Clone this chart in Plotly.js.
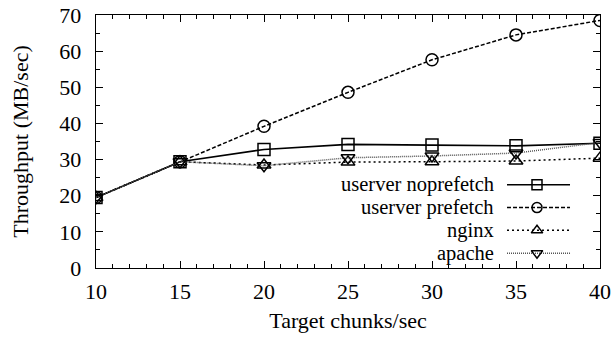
<!DOCTYPE html>
<html>
<head>
<meta charset="utf-8">
<script src="https://cdn.plot.ly/plotly-3.0.1.min.js"></script>
<style>html,body{margin:0;padding:0;background:#fff}#chart{width:613px;height:338px}</style>
</head>
<body>
<div id="chart"></div>
<script>
const chunks = [10, 15, 20, 25, 30, 35, 40];
const userverNoprefetch = [19.5, 29.4, 32.8, 34.2, 34.0, 33.8, 34.5];
const userverPrefetch   = [19.5, 29.4, 39.2, 48.6, 57.6, 64.5, 68.5];
const nginx             = [19.5, 29.4, 28.5, 29.3, 29.4, 29.6, 30.4];
const apache            = [19.5, 29.4, 28.3, 30.5, 31.0, 31.8, 34.7];
const seriesNames = ["userver noprefetch", "userver prefetch", "nginx", "apache"];
const xTicks = [10, 15, 20, 25, 30, 35, 40];
const yTicks = [0, 10, 20, 30, 40, 50, 60, 70];

const FONT = "Liberation Serif, Times New Roman, serif";
const styles = [
  {dash: "solid", symbol: "square-open", color: "#000", width: 1.6},
  {dash: "4px,2px", symbol: "circle-open", color: "#000", width: 1.5},
  {dash: "2px,3px", symbol: "triangle-up-open", color: "#000", width: 1.5},
  {dash: "1px,1px", symbol: "triangle-down-open", color: "#555", width: 1.5}
];
const values = [userverNoprefetch, userverPrefetch, nginx, apache];

const traces = values.map((v, i) => ({
  x: chunks, y: v, type: "scatter", mode: "lines+markers", name: seriesNames[i],
  showlegend: false,
  line: {color: styles[i].color, width: styles[i].width, dash: styles[i].dash},
  marker: {symbol: styles[i].symbol, size: 12, color: "#000", line: {color: "#000", width: 1.5}}
}));

// custom legend (text left of sample, gnuplot style), in a hidden [0,1] overlay axis
const legRows = [0, 1, 2, 3];
const legTop = 0.329, legStep = 0.0901;
legRows.forEach(i => {
  const yy = legTop - i * legStep;
  traces.push({
    x: [0.8155, 0.9405], y: [yy, yy], xaxis: "x2", yaxis: "y2", type: "scatter", mode: "lines",
    showlegend: false, hoverinfo: "skip",
    line: {color: styles[i].color, width: styles[i].width, dash: styles[i].dash}
  });
  traces.push({
    x: [0.875], y: [yy], xaxis: "x2", yaxis: "y2", type: "scatter", mode: "markers",
    showlegend: false, hoverinfo: "skip",
    marker: {symbol: styles[i].symbol, size: 10, color: "#000", line: {color: "#000", width: 1.5}}
  });
});
const annotations = legRows.map(i => ({
  xref: "x2", yref: "y2", x: 0.792, y: legTop - i * legStep, text: seriesNames[i],
  showarrow: false, xanchor: "right", yanchor: "middle", borderpad: 0,
  font: {family: FONT, size: 20.5, color: "#000"}
}));

const axisCommon = {
  showgrid: false, zeroline: false, showline: true, linecolor: "#000", linewidth: 1.3,
  mirror: "ticks", ticks: "inside", ticklen: 7, tickwidth: 1, tickcolor: "#000",
  tickfont: {family: FONT, size: 22, color: "#000"}
};

const layout = {
  width: 613, height: 338,
  margin: {l: 96, r: 13, t: 15, b: 70},
  paper_bgcolor: "#fff", plot_bgcolor: "#fff",
  font: {family: FONT, size: 22, color: "#000"},
  showlegend: false,
  xaxis: Object.assign({}, axisCommon, {
    range: [10, 40], tickvals: xTicks, ticktext: xTicks.map(String),
    minor: {dtick: 1, tick0: 10, ticks: "inside", ticklen: 4, tickcolor: "#000"},
    ticklabelstandoff: 3,
    title: {text: "Target chunks/sec", standoff: 10, font: {family: FONT, size: 22}}
  }),
  yaxis: Object.assign({}, axisCommon, {
    range: [0, 70], tickvals: yTicks, ticktext: yTicks.map(String),
    minor: {dtick: 5, tick0: 0, ticks: "inside", ticklen: 4, tickcolor: "#000"},
    ticklabelstandoff: 9,
    title: {text: "Throughput (MB/sec)", standoff: 24, font: {family: FONT, size: 22}}
  }),
  xaxis2: {overlaying: "x", range: [0, 1], visible: false, fixedrange: true},
  yaxis2: {overlaying: "y", range: [0, 1], visible: false, fixedrange: true},
  annotations: annotations
};

Plotly.newPlot("chart", traces, layout, {staticPlot: true});
</script>
</body>
</html>
